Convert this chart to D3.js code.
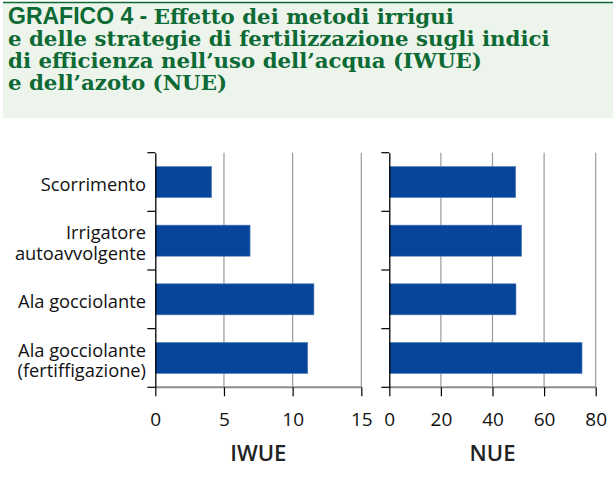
<!DOCTYPE html>
<html><head><meta charset="utf-8">
<script src="https://cdn.jsdelivr.net/npm/d3@7"></script>
<style>body{margin:0;background:#fff}</style>
</head><body>
<script>
const categories = ["Scorrimento", "Irrigatore\nautoavvolgente", "Ala gocciolante", "Ala gocciolante\n(fertiffigazione)"];
const iwue = [4.1, 6.9, 11.55, 11.1];
const nue = [49.0, 51.3, 49.1, 74.7];
const iwueTicks = [0, 5, 10, 15];
const nueTicks = [0, 20, 40, 60, 80];
const titleLines = ["GRAFICO 4 - Effetto dei metodi irrigui", "e delle strategie di fertilizzazione sugli indici", "di efficienza nell’uso dell’acqua (IWUE)", "e dell’azoto (NUE)"];

const W = 615, H = 488;
const svg = d3.select("body").append("svg").attr("width", W).attr("height", H);
const green = "#0d6a34";
svg.append("rect").attr("x", 3).attr("y", 2).attr("width", 610).attr("height", 116).attr("fill", "#ecf4ec");
svg.append("line").attr("x1", 3).attr("x2", 613).attr("y1", 2.5).attr("y2", 2.5).attr("stroke", green).attr("stroke-width", 1.5);

const title = svg.append("g");
titleLines.forEach((t, i) => {
  const tx = title.append("text").attr("x", 8).attr("y", 23.5 + i * 22.3)
    .attr("fill", green).attr("font-family", "DejaVu Serif").attr("font-weight", "bold").attr("font-size", 21.3);
  if (i === 0) {
    tx.append("tspan").attr("font-family", "Liberation Sans").attr("font-size", 23).text("GRAFICO 4 - ");
    tx.append("tspan").text(t.replace("GRAFICO 4 - ", ""));
  } else tx.text(t);
});

const y = d3.scaleBand().domain(categories).range([152.7, 387.3]).paddingInner(0.47).paddingOuter(0.235);
const yAxisBand = d3.scaleBand().domain(categories).range([152.7, 387.3]);
const font = "Open Sans";

function panel(x0, x1, ticks, values, label) {
  const x = d3.scaleLinear().domain([0, ticks[ticks.length - 1]]).range([x0, x1]);
  const g = svg.append("g");
  g.selectAll(".grid").data(ticks.slice(1)).join("line")
    .attr("x1", d => x(d)).attr("x2", d => x(d)).attr("y1", 152.7).attr("y2", 387.3)
    .attr("stroke", "#999").attr("stroke-width", 1.2);
  g.selectAll(".bar").data(values).join("rect")
    .attr("x", x(0)).attr("y", (d, i) => y(categories[i]))
    .attr("width", d => x(d) - x(0)).attr("height", y.bandwidth())
    .attr("fill", "#06459a").attr("stroke", "#5a83bd").attr("stroke-width", 0.6);
  g.append("line").attr("x1", x0).attr("x2", x1).attr("y1", 387.3).attr("y2", 387.3).attr("stroke", "#8c8c8c").attr("stroke-width", 2);
  const xa = g.append("g").attr("transform", "translate(0,387.3)")
    .call(d3.axisBottom(x).tickValues(ticks).tickSize(9).tickPadding(16).tickFormat(d3.format("d")));
  xa.select(".domain").remove();
  xa.selectAll(".tick line").attr("stroke", "#000").attr("stroke-width", 1.2);
  xa.selectAll(".tick text").attr("font-family", font).attr("font-size", 19).attr("fill", "#111");
  const ya = g.append("g").attr("transform", `translate(${x0},0)`)
    .call(d3.axisLeft(yAxisBand).tickValues([]).tickSize(0));
  ya.select(".domain").attr("stroke", "#000").attr("stroke-width", 1.3);
  const bounds = yAxisBand.domain().map(d => yAxisBand(d)).concat([387.3]);
  g.selectAll(".ytick").data(bounds).join("line")
    .attr("x1", x0 - 8).attr("x2", x0).attr("y1", d => d).attr("y2", d => d)
    .attr("stroke", "#000").attr("stroke-width", 1.2);
  g.append("text").attr("x", (x0 + x1) / 2).attr("y", 461).attr("text-anchor", "middle")
    .attr("font-family", font).attr("font-weight", 600).attr("font-size", 22).attr("fill", "#222").text(label);
  return x;
}
panel(155.3, 361.3, iwueTicks, iwue, "IWUE");
panel(389.3, 595.7, nueTicks, nue, "NUE");

const lab = svg.append("g");
categories.forEach(c => {
  const lines = c.split("\n");
  const cy = yAxisBand(c) + yAxisBand.bandwidth() / 2;
  const t = lab.append("text").attr("text-anchor", "end").attr("font-family", font)
    .attr("font-size", 18.3).attr("fill", "#111");
  lines.forEach((l, j) => {
    t.append("tspan").attr("x", 146).attr("y", cy + 9 + (j - (lines.length - 1) / 2) * 20.5).text(l);
  });
});
</script>
</body></html>
